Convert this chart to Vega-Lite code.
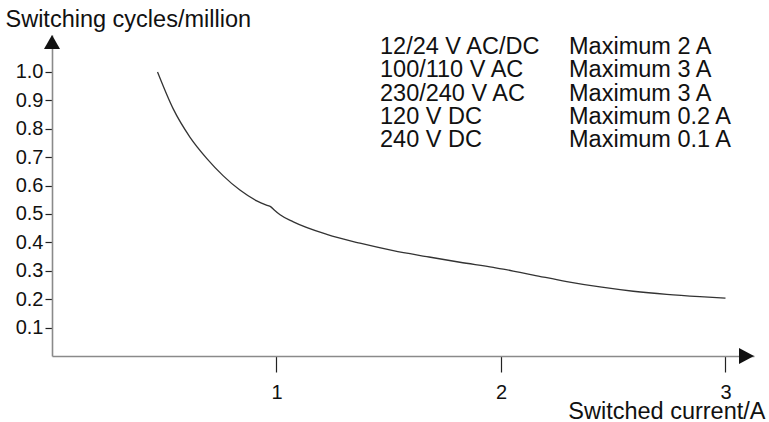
{
  "$schema": "https://vega.github.io/schema/vega-lite/v6.json",
  "autosize": "none",
  "padding": {"left": 52, "top": 35, "right": 15, "bottom": 66},
  "width": 702,
  "height": 321,
  "background": "white",
  "config": {
    "view": {"stroke": null},
    "font": "Liberation Sans",
    "axis": {
      "grid": false,
      "domainColor": "#8a8a8a",
      "domainWidth": 1.6,
      "tickColor": "#222222",
      "tickWidth": 1.2,
      "labelColor": "#111111",
      "labelFont": "Liberation Sans",
      "labelFontSize": 20,
      "labelOverlap": false,
      "labelFlush": false,
      "titleColor": "#111111",
      "titleFont": "Liberation Sans",
      "titleFontSize": 23.5,
      "titleFontWeight": "normal"
    }
  },
  "resolve": {"axis": {"x": "independent", "y": "independent"}},
  "datasets": {
    "curve": [
      {"current": 0.47, "cycles": 1.0},
      {"current": 0.54, "cycles": 0.87},
      {"current": 0.615, "cycles": 0.77},
      {"current": 0.69, "cycles": 0.695},
      {"current": 0.763, "cycles": 0.634},
      {"current": 0.837, "cycles": 0.584},
      {"current": 0.912, "cycles": 0.546},
      {"current": 0.955, "cycles": 0.531},
      {"current": 0.975, "cycles": 0.525},
      {"current": 0.99, "cycles": 0.514},
      {"current": 1.016, "cycles": 0.497},
      {"current": 1.075, "cycles": 0.472},
      {"current": 1.224, "cycles": 0.428},
      {"current": 1.372, "cycles": 0.397},
      {"current": 1.52, "cycles": 0.371},
      {"current": 1.669, "cycles": 0.35},
      {"current": 1.817, "cycles": 0.33},
      {"current": 1.966, "cycles": 0.312},
      {"current": 2.01, "cycles": 0.306},
      {"current": 2.085, "cycles": 0.294},
      {"current": 2.144, "cycles": 0.285},
      {"current": 2.293, "cycles": 0.262},
      {"current": 2.441, "cycles": 0.243},
      {"current": 2.589, "cycles": 0.228},
      {"current": 2.738, "cycles": 0.217},
      {"current": 2.886, "cycles": 0.209},
      {"current": 3.0, "cycles": 0.204}
    ],
    "ratings": [
      {"supply": "12/24 V AC/DC\n100/110 V AC\n230/240 V AC\n120 V DC\n240 V DC",
       "limit": "Maximum 2 A\nMaximum 3 A\nMaximum 3 A\nMaximum 0.2 A\nMaximum 0.1 A"}
    ]
  },
  "layer": [
    {
      "data": {"name": "curve"},
      "mark": {"type": "line", "color": "#333333", "strokeWidth": 1.3, "interpolate": "monotone"},
      "encoding": {
        "x": {
          "field": "current", "type": "quantitative",
          "scale": {"domain": [0, 3.127], "nice": false, "zero": true},
          "axis": {
            "values": [1, 2, 3], "format": "d",
            "tickSize": 16, "labelPadding": 10, "labelFontSize": 20,
            "title": "Switched current/A",
            "titleAngle": 0, "titleAlign": "right", "titleBaseline": "alphabetic",
            "titleX": 713, "titleY": 62
          }
        },
        "y": {
          "field": "cycles", "type": "quantitative",
          "scale": {"domain": [0, 1.13], "nice": false, "zero": true},
          "axis": {
            "values": [0.1, 0.2, 0.3, 0.4, 0.5, 0.6, 0.7, 0.8, 0.9, 1.0], "format": ".1f",
            "tickSize": 7, "labelPadding": 2, "labelFontSize": 20, "labelOverlap": false,
            "title": "Switching cycles/million",
            "titleAngle": 0, "titleAlign": "left", "titleBaseline": "alphabetic",
            "titleX": -47, "titleY": -9
          }
        }
      }
    },
    {
      "data": {"values": [{}]},
      "mark": {"type": "point", "shape": "M0,0L-1,1.75L1,1.75Z", "size": 256, "filled": true, "color": "#111111", "opacity": 1},
      "encoding": {"x": {"datum": 0, "type": "quantitative", "axis": null}, "y": {"datum": 1.13, "type": "quantitative", "axis": null}}
    },
    {
      "data": {"values": [{}]},
      "mark": {"type": "point", "shape": "M0,0L-1.875,-1L-1.875,1Z", "size": 256, "filled": true, "color": "#111111", "opacity": 1},
      "encoding": {"x": {"datum": 3.127, "type": "quantitative", "axis": null}, "y": {"datum": 0, "type": "quantitative", "axis": null}}
    },
    {
      "data": {"name": "ratings"},
      "mark": {"type": "text", "align": "left", "baseline": "alphabetic", "lineBreak": "\n", "lineHeight": 23.3, "fontSize": 23.5, "font": "Liberation Sans", "color": "#111111"},
      "encoding": {"x": {"datum": 1.461, "type": "quantitative", "axis": null}, "y": {"datum": 1.063, "type": "quantitative", "axis": null}, "text": {"field": "supply"}}
    },
    {
      "data": {"name": "ratings"},
      "mark": {"type": "text", "align": "left", "baseline": "alphabetic", "lineBreak": "\n", "lineHeight": 23.3, "fontSize": 23.5, "font": "Liberation Sans", "color": "#111111"},
      "encoding": {"x": {"datum": 2.303, "type": "quantitative", "axis": null}, "y": {"datum": 1.063, "type": "quantitative", "axis": null}, "text": {"field": "limit"}}
    }
  ]
}
